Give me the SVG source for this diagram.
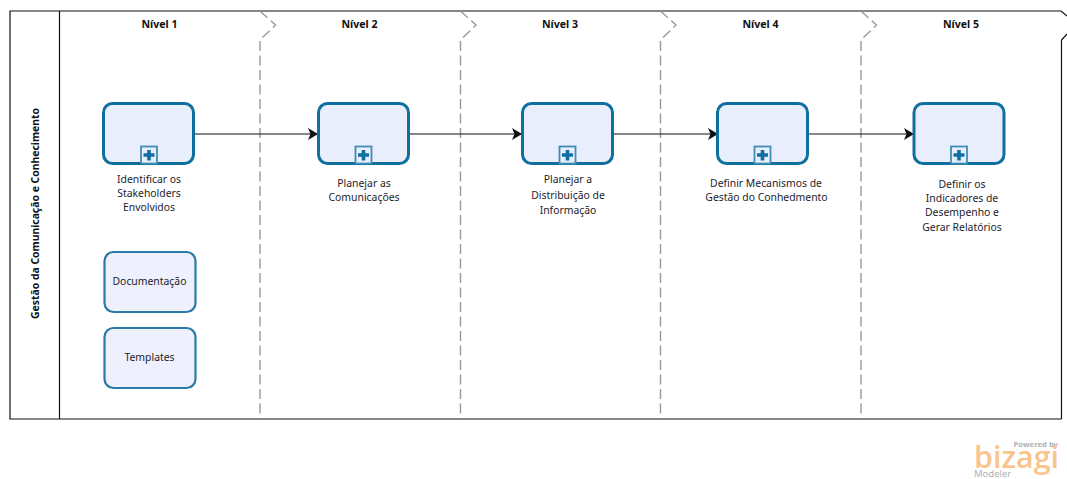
<svg xmlns="http://www.w3.org/2000/svg" width="1067" height="479" viewBox="0 0 1067 479">
<style>
text{font-family:"Noto Sans","DejaVu Sans",sans-serif;fill:#1c1c2c}
.l{font-size:10.400px;text-anchor:middle}
.h{font-size:10.600px;font-weight:700;text-anchor:middle;fill:#111}
.t{fill:#e9eefc;stroke:#0f6f9f;stroke-width:3}
.a{fill:#eef1fd;stroke:#2a7aa8;stroke-width:2.2}
.p{fill:#e9eefc;stroke:#3f8db5;stroke-width:1.8}
.c{fill:#0f6f9f}
.f{fill:none;stroke:#111;stroke-width:1.2}
.d{fill:none;stroke:#999;stroke-width:1.4;stroke-dasharray:10 4.500}
.e{fill:none;stroke:#111;stroke-width:1.2}
</style>
<defs>
<marker id="ah" markerUnits="userSpaceOnUse" markerWidth="11" markerHeight="12" refX="10" refY="6" orient="auto"><path d="M0 0L10 6L0 12L2.500 6Z" fill="#111"/></marker>
<g id="pl"><rect class="p" x="-8" y="-8.500" width="16" height="17"/><path class="c" d="M-1.800-5h3.600v3.200h3.700v3.600h-3.700v3.700h-3.600v-3.700h-3.700v-3.600h3.700z"/></g>
</defs>
<rect width="1067" height="479" fill="#fff"/>
<g id="pool">
<path class="f" d="M1061.500 419H10V11H1061L1067 16M1067 34L1061.500 40V419M59.500 11V419"/>
<path class="d" d="M260 11L275.500 25L260 40V419M460.500 11L476 25L460.500 40V419M660.500 11L676 25L660.500 40V419M861 11L876.500 25L861 40V419"/>
<text transform="translate(39 213.500) rotate(-90)" style="font-size:10.400px;font-weight:700;text-anchor:middle;fill:#111">Gestão da Comunicação e Conhecimento</text>
<text class="h" x="159.500" y="28">Nível 1</text>
<text class="h" x="359.500" y="28">Nível 2</text>
<text class="h" x="560" y="28">Nível 3</text>
<text class="h" x="760.500" y="28">Nível 4</text>
<text class="h" x="961" y="28">Nível 5</text>
</g>
<g id="connectors">
<path class="e" marker-end="url(#ah)" d="M194 134H318"/>
<path class="e" marker-end="url(#ah)" d="M409 134H522"/>
<path class="e" marker-end="url(#ah)" d="M613 134H718"/>
<path class="e" marker-end="url(#ah)" d="M808 134H914"/>
</g>
<g id="n1"><rect class="t" x="103.500" y="103.500" width="90" height="60" rx="9"/><use href="#pl" x="149" y="155"/>
<text class="l" x="149" y="183">Identificar os</text><text class="l" x="149" y="197">Stakeholders</text><text class="l" x="149" y="211">Envolvidos</text></g>
<g id="n2"><rect class="t" x="318.500" y="103.500" width="90" height="60" rx="9"/><use href="#pl" x="363.500" y="155"/>
<text class="l" x="364" y="187">Planejar as</text><text class="l" x="364" y="201">Comunicações</text></g>
<g id="n3"><rect class="t" x="522.500" y="103.500" width="90" height="60" rx="9"/><use href="#pl" x="567.500" y="155"/>
<text class="l" x="568" y="183">Planejar a</text><text class="l" x="568" y="199">Distribuição de</text><text class="l" x="568" y="214">Informação</text></g>
<g id="n4"><rect class="t" x="717.500" y="103.500" width="90" height="60" rx="9"/><use href="#pl" x="762.500" y="155"/>
<text class="l" x="766" y="187">Definir Mecanismos de</text><text class="l" x="766.500" y="201">Gestão do Conhedmento</text></g>
<g id="n5"><rect class="t" x="914" y="103.500" width="90" height="60" rx="9"/><use href="#pl" x="959" y="155"/>
<text class="l" x="962" y="188">Definir os</text><text class="l" x="962" y="202">Indicadores de</text><text class="l" x="962" y="216">Desempenho e</text><text class="l" x="962" y="231">Gerar Relatórios</text></g>
<g id="a1"><rect class="a" x="104.500" y="252" width="91" height="60" rx="9"/><text class="l" x="149.500" y="285">Documentação</text></g>
<g id="a2"><rect class="a" x="104.500" y="328" width="91" height="60" rx="9"/><text class="l" x="149.500" y="361">Templates</text></g>
<g id="brand">
<text x="1058" y="447" style="font-size:7.700px;font-weight:700;text-anchor:end;fill:#a9b2bb">Powered by</text>
<text x="974" y="468" textLength="85" lengthAdjust="spacingAndGlyphs" style="font-size:30px;font-weight:600;fill:#f9c48d;font-family:'Open Sans',sans-serif">bizagi</text>
<text x="974" y="477" style="font-size:9.500px;fill:#a9b2bb">Modeler</text>
</g>
</svg>
